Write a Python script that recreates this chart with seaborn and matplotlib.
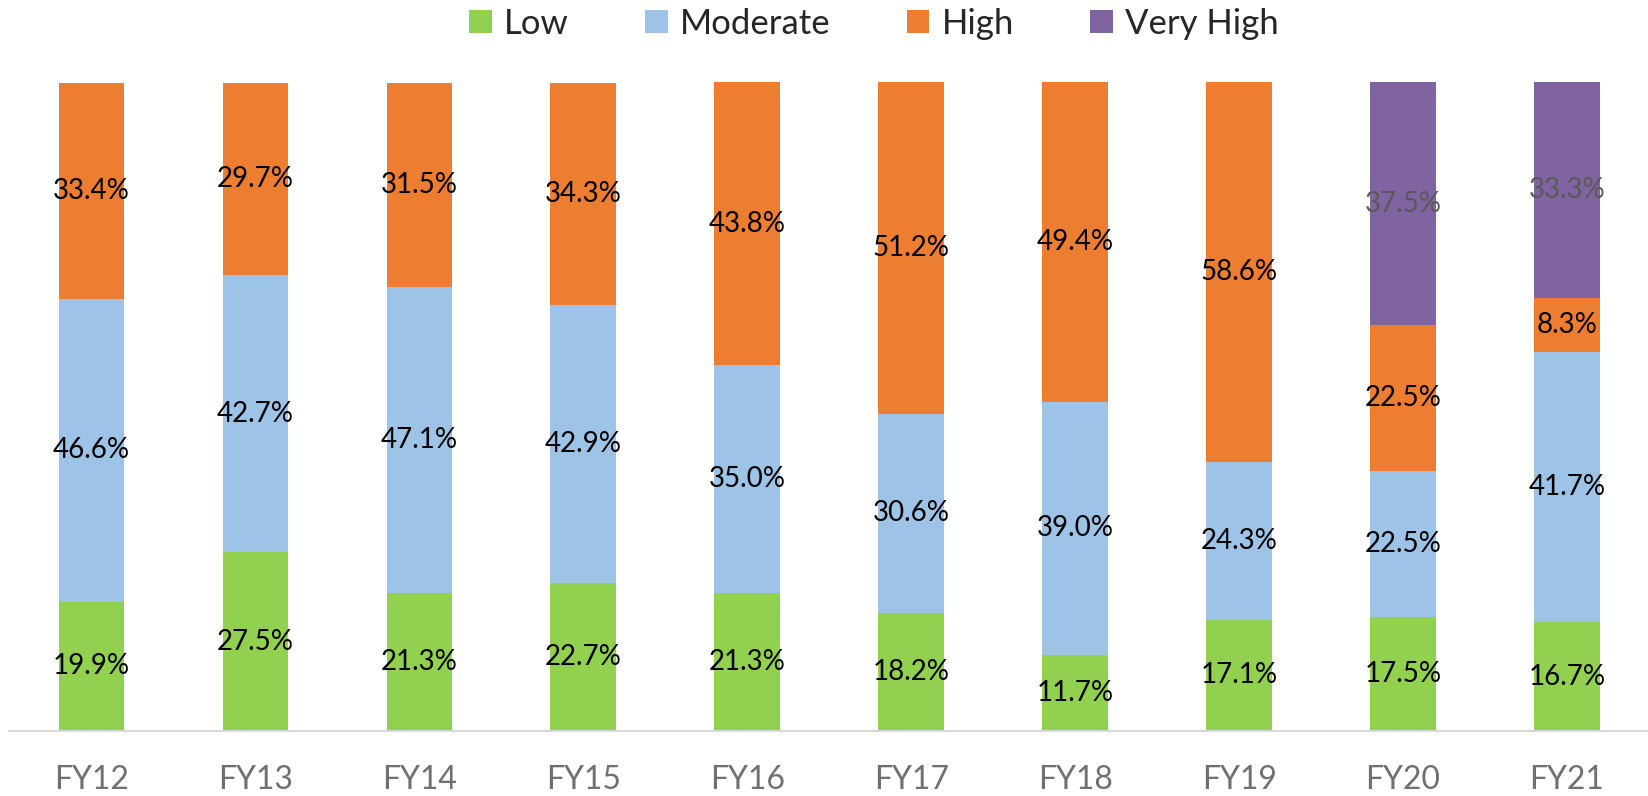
import matplotlib
matplotlib.use("Agg")
import matplotlib.pyplot as plt
import seaborn as sns
from matplotlib.patches import Patch

years = ["FY12", "FY13", "FY14", "FY15", "FY16", "FY17", "FY18", "FY19", "FY20", "FY21"]
low = [19.9, 27.5, 21.3, 22.7, 21.3, 18.2, 11.7, 17.1, 17.5, 16.7]
moderate = [46.6, 42.7, 47.1, 42.9, 35.0, 30.6, 39.0, 24.3, 22.5, 41.7]
high = [33.4, 29.7, 31.5, 34.3, 43.8, 51.2, 49.4, 58.6, 22.5, 8.3]
very_high = [0, 0, 0, 0, 0, 0, 0, 0, 37.5, 33.3]

series_names = ["Low", "Moderate", "High", "Very High"]
series_values = [low, moderate, high, very_high]
colors = ["#92d050", "#9dc3e6", "#ed7d31", "#8064a2"]
label_colors = ["black", "black", "black", "#595959"]

sns.set_theme(style="white")
plt.rcParams["font.family"] = ["Lato", "DejaVu Sans"]

fig = plt.figure(figsize=(16.49, 7.96), dpi=100)
ax = fig.add_axes([0.0057, 0.082, 0.9943, 0.815])

bottom = [0.0] * len(years)
for name, values, color, lcolor in zip(series_names, series_values, colors, label_colors):
    sns.barplot(x=years, y=values, bottom=bottom, color=color, width=0.4,
                saturation=1, ax=ax, linewidth=0)
    container = ax.containers[-1]
    labels = [f"{v:.1f}%" if v > 0 else "" for v in values]
    ax.bar_label(container, labels=labels, label_type="center",
                 fontsize=20, color=lcolor)
    bottom = [b + v for b, v in zip(bottom, values)]

ax.set_xlim(-0.5, len(years) - 0.5)
ax.set_ylim(0, 100)
ax.set_yticks([])
ax.set_ylabel("")
for side in ["top", "right", "left"]:
    ax.spines[side].set_visible(False)
ax.spines["bottom"].set_color("#d9d9d9")
ax.spines["bottom"].set_linewidth(1.5)
ax.tick_params(axis="x", length=0, pad=25, labelsize=23, labelcolor="#707070")

handles = [Patch(facecolor=c, edgecolor="none") for c in colors]
fig.legend(handles, series_names, loc="center", bbox_to_anchor=(0.530, 0.970),
           ncol=4, frameon=False, fontsize=25, handlelength=0.65,
           handleheight=0.65, handletextpad=0.35, columnspacing=2.2)

fig.savefig("out.png", dpi=100)
